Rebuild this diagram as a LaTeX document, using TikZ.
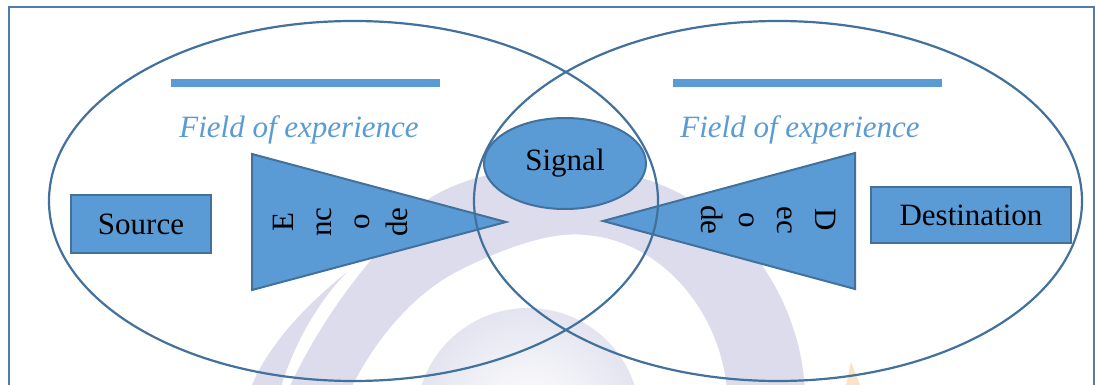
\documentclass[tikz,border=0pt]{standalone}
\usepackage{fontspec}
\setmainfont{Liberation Serif}
\usetikzlibrary{shapes.geometric}
\definecolor{fillblue}{HTML}{5B9BD5}
\definecolor{edgeblue}{HTML}{41719C}
\definecolor{ringblue}{HTML}{41719C}
\definecolor{framecol}{HTML}{4A7DB5}
\definecolor{wm}{HTML}{DCDCEC}
\definecolor{wmlight}{HTML}{E4E4F0}
\definecolor{peach}{HTML}{FCE2C8}
\begin{document}
\begin{tikzpicture}[x=1pt,y=-1pt,
  txt/.style={font=\fontsize{31}{38}\selectfont, inner sep=0pt},
  boxnode/.style={txt, draw=edgeblue, fill=fillblue, line width=2pt},
  fieldtext/.style={txt, text=fillblue, font=\fontsize{31}{38}\selectfont\itshape},
  bar/.style={fill=fillblue},
  ring/.style={draw=ringblue, line width=2.2pt},
  shapeline/.style={draw=edgeblue, fill=fillblue, line width=2pt, line join=miter},
  vtext/.style={txt, align=center}
]
\useasboundingbox (0,0) rectangle (1095,385);
\clip (0,0) rectangle (1095,385);
\fill[white] (0,0) rectangle (1095,385);

% faint watermark
\shade[inner color=white, outer color=wmlight] (528,420) circle[radius=112];
\fill[wm] (805,390) .. controls (800,300) and (740,190) .. (600,168)
  .. controls (520,160) and (440,180) .. (410,215)
  .. controls (380,250) and (330,300) .. (288,390) -- (350,390)
  .. controls (380,330) and (420,290) .. (460,270)
  .. controls (520,240) and (560,232) .. (585,235)
  .. controls (660,240) and (720,310) .. (727,390) -- cycle;
\fill[wm] (347,272) .. controls (300,310) and (265,350) .. (250,390) -- (280,390)
  .. controls (295,340) and (320,300) .. (347,272) -- cycle;
\fill[peach] (846,385) -- (851,362) -- (860,385) -- cycle;

% frame
\draw[framecol, line width=2.5pt] (9,420) -- (9,7) -- (1094,7) -- (1094,420);

% bars and field labels
\fill[bar] (171,79) rectangle (440,87);
\fill[bar] (673,79) rectangle (942,87);
\node[fieldtext, anchor=base] (fieldL) at (299,138) {Field of experience};
\node[fieldtext, anchor=base] (fieldR) at (800,138) {Field of experience};

% boxes
\node[boxnode, minimum width=140pt, minimum height=58pt] (source) at (141,224) {Source};
\node[boxnode, minimum width=200pt, minimum height=56pt] (dest) at (971,215) {Destination};

% triangles
\draw[shapeline] (252,154) -- (506,222) -- (252,290) -- cycle;
\draw[shapeline] (855,153) -- (603,221) -- (855,289) -- cycle;
\node[vtext, rotate=90] (encode) at (340,222) {E\\nc\\o\\de};
\node[vtext, rotate=-90] (decode) at (768,220) {D\\ec\\o\\de};

% signal
\node[ellipse, draw=edgeblue, fill=fillblue, line width=2pt, txt,
  minimum width=162pt, minimum height=91pt] (signal) at (565,163.5) {Signal};

% fields of experience
\draw[ring] (353.5,201) ellipse[x radius=304.5, y radius=180];
\draw[ring] (778,201) ellipse[x radius=304, y radius=180];
\end{tikzpicture}
\end{document}
